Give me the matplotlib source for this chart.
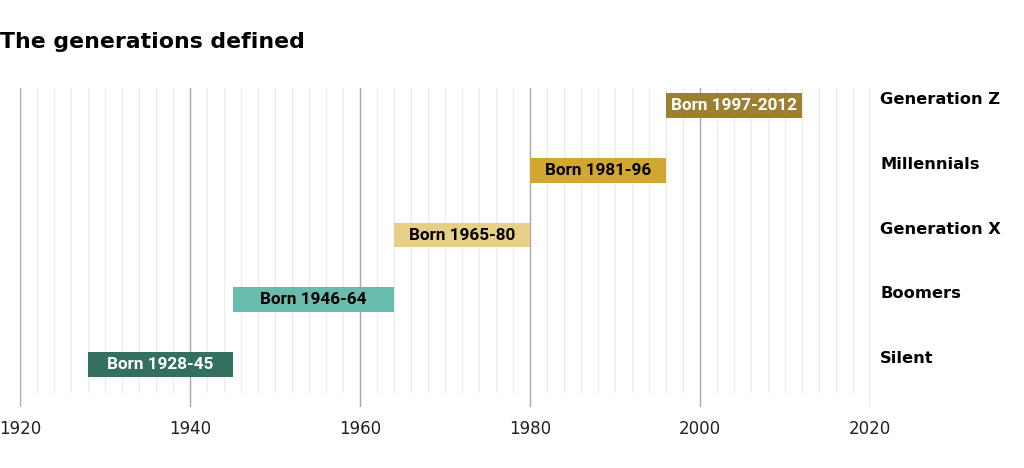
import matplotlib
matplotlib.use("Agg")
import matplotlib.pyplot as plt

generations = ["Silent", "Boomers", "Generation X", "Millennials", "Generation Z"]
bar_labels = ["Born 1928-45", "Born 1946-64", "Born 1965-80", "Born 1981-96", "Born 1997-2012"]
start_years = [1928, 1945, 1964, 1980, 1996]
end_years = [1945, 1964, 1980, 1996, 2012]
colors = ["#34705f", "#68bbad", "#e8cf88", "#d2a72f", "#9d7f30"]
text_colors = ["white", "black", "black", "black", "white"]
major_ticks = [1920, 1940, 1960, 1980, 2000, 2020]
minor_ticks = list(range(1922, 2020, 2))

W, H = 1024, 468
fig = plt.figure(figsize=(W / 100, H / 100), dpi=100)
# axes from x=20..870 px, y=88..407 px
ax = fig.add_axes([20 / W, 1 - 407 / H, 850 / W, 319 / H])
ax.set_xlim(1920, 2020)
ax.set_ylim(-0.656, 4.27)

for x in minor_ticks:
    if x % 20 != 0:
        ax.axvline(x, ymin=15 / 319, ymax=1, color="#ececec", lw=1, zorder=0)
for x in major_ticks:
    ax.axvline(x, ymin=0, ymax=1, color="#a8a8a8", lw=1, zorder=1)

for i, (g, lab, s, e, c, tc) in enumerate(zip(generations, bar_labels, start_years, end_years, colors, text_colors)):
    ax.barh(i, e - s, left=s, height=0.386, color=c, zorder=2)
    ax.text((s + e) / 2, i, lab, ha="center", va="center", color=tc,
            fontsize=12.3, fontweight="bold", zorder=3, family="Roboto")
    ax.text(2021.2, i + 0.09, g, ha="left", va="center", color="black",
            fontsize=11.7, fontweight="bold", family="DejaVu Sans", clip_on=False)

ax.set_xticks(major_ticks)
ax.set_xticklabels([str(t) for t in major_ticks], fontsize=12, color="#222222")
ax.tick_params(axis="x", length=0, pad=9)
ax.set_yticks([])
for sp in ax.spines.values():
    sp.set_visible(False)

fig.text(0 / W, 1 - 42 / H, "The generations defined", fontsize=15.8, fontweight="bold",
         va="center", ha="left", color="black")

fig.savefig("out.png", dpi=100)
